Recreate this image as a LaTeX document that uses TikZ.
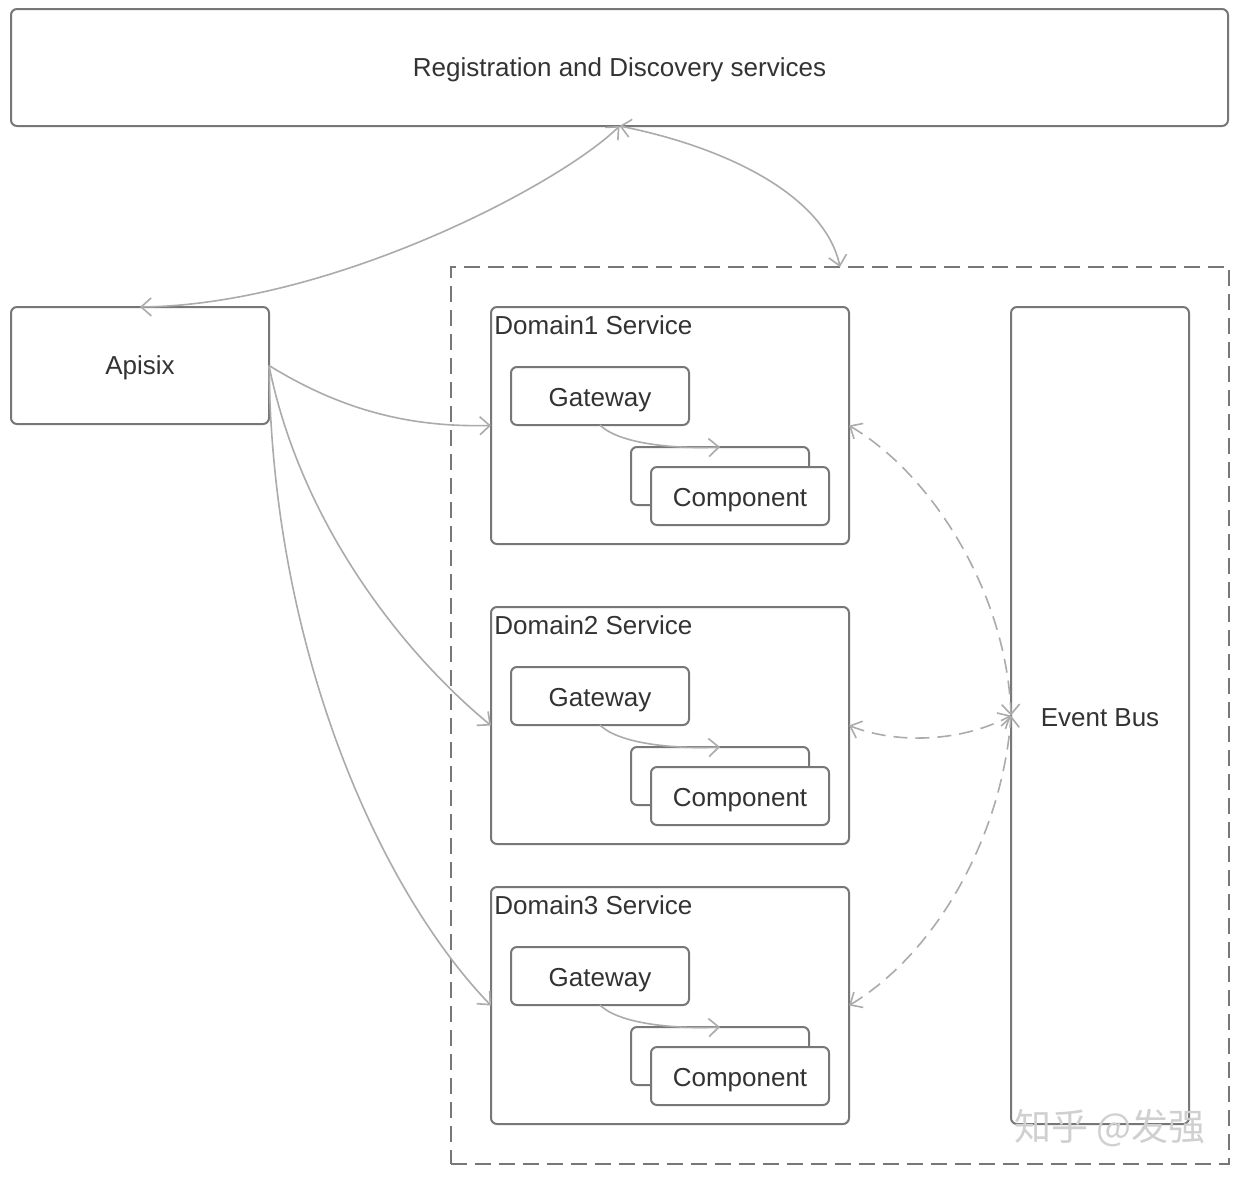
\documentclass[tikz,border=0pt]{standalone}
\usepackage{fontspec}
\setmainfont{Liberation Sans}
\newfontfamily\cjkfont{Noto Sans CJK SC}
\usetikzlibrary{arrows.meta}
\definecolor{boxc}{HTML}{777777}
\definecolor{linec}{HTML}{ABABAB}
\definecolor{txtc}{HTML}{333333}
\definecolor{wmc}{HTML}{D0D0D0}
\tikzset{
  box/.style={draw=boxc, line width=1pt, rounded corners=3pt, fill=white, inner sep=0pt, outer sep=0pt,
    text=txtc, font=\fontsize{13}{15}\selectfont, text height=11pt, text depth=0.2pt},
  conn/.style={draw=linec, line width=0.8pt, >={Straight Barb[length=5pt,width=9pt]}},
  dconn/.style={conn, dash pattern=on 7pt off 4pt},
  lbl/.style={text=txtc, font=\fontsize{13}{15}\selectfont, inner sep=0pt, anchor=base west},
}
\begin{document}
\begin{tikzpicture}[x=0.5pt,y=-0.5pt]
\useasboundingbox[fill=white] (0,0) rectangle (1240,1178);
% registration
\node[box, text height=9.2pt, minimum width=608.5pt, minimum height=58.5pt] (reg) at (619.5,67.5) {Registration and Discovery services};
% apisix
\node[box, text height=9.2pt, minimum width=129pt, minimum height=58.5pt] (api) at (140,365.5) {Apisix};
% container
\node[draw=boxc, line width=1pt, dash pattern=on 8pt off 4pt, minimum width=389pt, minimum height=448.5pt, inner sep=0pt, outer sep=0pt] (cont) at (840,715.5) {};
% event bus
\node[box, minimum width=89pt, minimum height=408.5pt] (bus) at (1100,715.5) {Event Bus};
% domains
\foreach \i/\dy in {1/0,2/300,3/580}{
  \node[box, minimum width=179pt, minimum height=118.5pt] (dom\i) at (670,425.5+\dy) {};
  \node[lbl] (dlbl\i) at (494,334.5+\dy) {Domain\i{} Service};
  \node[box, minimum width=89pt, minimum height=29pt] (gw\i) at (600,396+\dy) {Gateway};
  \node[box, minimum width=89pt, minimum height=29pt] (cb\i) at (720,476+\dy) {};
  \node[box, minimum width=89pt, minimum height=29pt] (cf\i) at (740,496+\dy) {Component};
  \draw[conn,->] (gw\i.south) .. controls +(20,20) and +(-40,2) .. (cb\i.north);
}
% connectors
\draw[conn,<->] (reg.south) .. controls +(-60,59) and +(190,-2) .. (api.north);
\draw[conn,<->] (reg.south) .. controls +(110,22) and +(-15,-70) .. (cont.north);
\draw[conn,->] (api.east) .. controls +(81,50) and +(-71,1.5) .. (dom1.west);
\draw[conn,->] (api.east) .. controls +(31,155) and +(-91,-75) .. (dom2.west);
\draw[conn,->] (api.east) .. controls +(3,285) and +(-111,-115) .. (dom3.west);
\draw[dconn,<->] (dom1.east) .. controls +(85,50) and +(-4,-120) .. (bus.west);
\draw[dconn,<->] (dom2.east) .. controls +(51,20) and +(-46,25) .. (bus.west);
\draw[dconn,<->] (dom3.east) .. controls +(91,-55) and +(-8,115) .. (bus.west);
% watermark
\node[text=wmc, font=\cjkfont\fontsize{18.5}{20}\selectfont, inner sep=0pt] (wm) at (1110,1128) {知乎 @发强};
\end{tikzpicture}
\end{document}
